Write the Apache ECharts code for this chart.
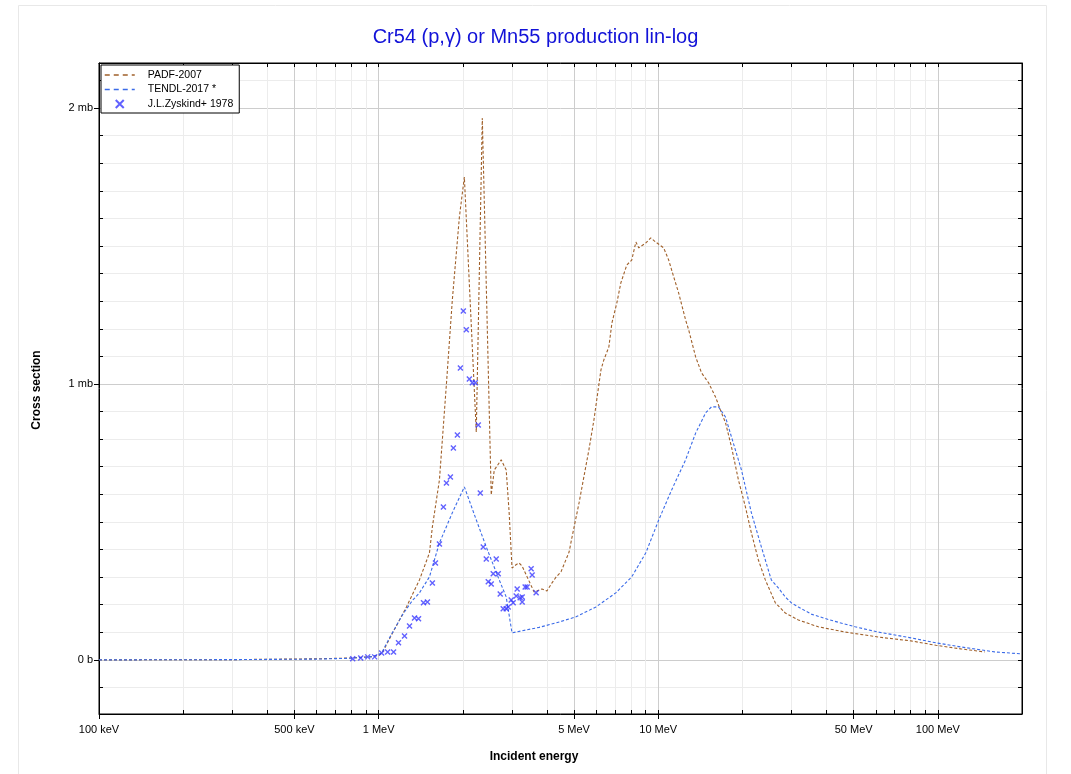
<!DOCTYPE html>
<html><head><meta charset="utf-8">
<script src="https://cdn.jsdelivr.net/npm/echarts@6/dist/echarts.min.js"></script>
<style>html,body{margin:0;padding:0;background:#fff}#c{width:1071px;height:774px}</style>
</head><body><div id="c"></div>
<script>
// ---- data (energy in MeV, cross section in mb) ----
const padfEnergy = [0.1,0.3,0.6,0.8,0.95,1.0,1.03,1.122,1.258,1.40,1.52,1.557,1.65,1.748,1.835,1.945,2.026,2.235,2.349,2.528,2.592,2.745,2.86,2.93,3.0,3.1,3.18,3.26,3.40,3.60,3.84,4.0,4.17,4.31,4.49,4.8,4.92,5.21,5.65,5.89,6.24,6.39,6.66,6.83,7.11,7.35,7.72,8.04,8.32,8.52,9.03,9.40,9.80,10.46,10.90,11.36,11.83,12.53,12.85,13.61,14.29,15.14,16.03,16.84,17.40,18.28,19.36,20.51,21.54,22.82,24.16,26.23,28.48,31.70,37.35,46.6,61.1,80.1,98.4,120.8,147];
const padfSigma  = [0,0.001,0.004,0.007,0.012,0.016,0.025,0.098,0.192,0.29,0.388,0.482,0.652,1.0,1.304,1.605,1.75,0.826,1.964,0.598,0.688,0.725,0.688,0.533,0.333,0.345,0.351,0.34,0.30,0.246,0.257,0.25,0.279,0.30,0.319,0.391,0.446,0.569,0.761,0.87,1.051,1.087,1.134,1.221,1.293,1.366,1.431,1.449,1.514,1.493,1.511,1.529,1.514,1.493,1.449,1.388,1.330,1.232,1.196,1.098,1.040,1.004,0.953,0.895,0.860,0.772,0.652,0.554,0.460,0.362,0.290,0.207,0.170,0.145,0.120,0.101,0.083,0.069,0.053,0.040,0.029];

const tendlEnergy = [0.1,0.3,0.6,0.8,0.95,1.025,1.094,1.22,1.32,1.40,1.52,1.65,1.835,2.026,2.236,2.427,2.70,2.86,3.0,3.75,4.31,5.08,5.99,7.05,8.04,9.03,10.04,11.17,12.53,13.61,14.77,15.51,16.43,17.40,18.28,19.85,21.54,23.39,25.38,26.89,28.48,29.92,31.70,35.26,41.0,50.6,61.1,80.1,98.4,120.8,159.7,197.7];
const tendlSigma  = [0,0.001,0.003,0.006,0.012,0.025,0.08,0.165,0.215,0.243,0.301,0.424,0.533,0.627,0.507,0.409,0.29,0.228,0.098,0.118,0.134,0.156,0.192,0.243,0.301,0.388,0.507,0.616,0.725,0.822,0.895,0.917,0.917,0.880,0.808,0.688,0.533,0.409,0.290,0.261,0.228,0.207,0.192,0.166,0.145,0.120,0.101,0.080,0.062,0.047,0.029,0.022];

const zyskindEnergy = [0.808,0.863,0.914,0.968,1.025,1.077,1.131,1.178,1.238,1.290,1.344,1.389,1.447,1.495,1.557,1.597,1.650,1.705,1.748,1.806,1.851,1.913,1.961,2.009,2.059,2.111,2.163,2.217,2.272,2.310,2.367,2.427,2.634,2.467,2.528,2.570,2.678,2.722,2.790,2.860,2.907,2.980,3.029,3.105,3.130,3.208,3.262,3.262,3.343,3.398,3.512,3.541,3.659];
const zyskindSigma  = [0.004,0.007,0.011,0.011,0.025,0.029,0.029,0.062,0.087,0.123,0.152,0.149,0.207,0.210,0.279,0.351,0.420,0.554,0.641,0.663,0.768,0.815,1.058,1.264,1.196,1.018,1.004,1.004,0.851,0.605,0.409,0.366,0.366,0.283,0.275,0.312,0.312,0.239,0.185,0.185,0.192,0.217,0.207,0.232,0.257,0.225,0.228,0.210,0.264,0.264,0.330,0.308,0.243];

// ---- ticks ----
const xMajorTicks  = [0.1, 0.5, 1, 5, 10, 50, 100];
const xMajorLabels = ['100 keV','500 keV','1 MeV','5 MeV','10 MeV','50 MeV','100 MeV'];
const xMinorTicks  = [0.2,0.3,0.4,0.6,0.7,0.8,0.9,2,3,4,6,7,8,9,20,30,40,60,70,80,90,200];
const yMajorTicks  = [0, 1, 2];
const yMajorLabels = ['0 b', '1 mb', '2 mb'];
const yMinorTicks  = [-0.1,0.1,0.2,0.3,0.4,0.5,0.6,0.7,0.8,0.9,1.1,1.2,1.3,1.4,1.5,1.6,1.7,1.8,1.9,2.1];

const xMin = 0.1, xMax = 200, yMin = -0.196, yMax = 2.163;

const zip = (a, b) => a.map((v, i) => [v, b[i]]);
const lg = v => Math.log10(v);
const xMajLog = xMajorTicks.map(lg);
const xMinLog = xMinorTicks.map(lg);
const xAllLog = xMajLog.concat(xMinLog);

const FONT = 'Liberation Sans, Arial, Helvetica, sans-serif';
const BROWN = '#a0602a', BLUE = '#3b6be8', MARK = '#3a3aff';

const chart = echarts.init(document.getElementById('c'), null, {renderer: 'canvas'});
const lmin = lg(xMin), lmax = lg(xMax);
function xLabel(v) {
  let best = 0, d = 1e9;
  xMajLog.forEach((t, i) => { if (Math.abs(t - v) < d) { d = Math.abs(t - v); best = i; } });
  return xMajorLabels[best];
}
function yLabel(v) {
  let best = 0, d = 1e9;
  yMajorTicks.forEach((t, i) => { if (Math.abs(t - v) < d) { d = Math.abs(t - v); best = i; } });
  return yMajorLabels[best];
}

chart.setOption({
  animation: false,
  backgroundColor: '#fff',
  textStyle: {fontFamily: FONT},
  title: {
    text: 'Cr54 (p,γ) or Mn55 production lin-log',
    left: 'center', top: 22,
    textStyle: {color: '#1212d8', fontSize: 20, fontWeight: 'normal', fontFamily: FONT}
  },
  grid: {left: 99, right: 49, top: 63, bottom: 60, show: true, borderColor: '#000', borderWidth: 1, backgroundColor: 'transparent', containLabel: false},
  legend: {
    orient: 'vertical', left: 101, top: 65,
    padding: [4, 6, 3, 3], itemGap: 2.5, itemWidth: 30, itemHeight: 8,
    backgroundColor: '#fff', borderColor: '#000', borderWidth: 1, borderRadius: 0,
    textStyle: {fontSize: 10.5, color: '#000', fontFamily: FONT, lineHeight: 12, padding: [0, 0, 0, 8]},
    data: [
      {name: 'PADF-2007', lineStyle: {color: BROWN, type: [5, 4], width: 1.5}, itemStyle: {opacity: 0}},
      {name: 'TENDL-2017 *', lineStyle: {color: BLUE, type: [5, 4], width: 1.5}, itemStyle: {opacity: 0}},
      {name: 'J.L.Zyskind+ 1978'}
    ]
  },
  xAxis: [
    {type: 'log', logBase: 10, min: xMin, max: xMax, show: false},
    {type: 'value', min: lmin, max: lmax, position: 'bottom',
      axisLine: {show: false, onZero: false},
      axisTick: {show: true, customValues: xAllLog, inside: true, length: 4, lineStyle: {color: '#000'}},
      axisLabel: {show: false},
      splitLine: {show: true, lineStyle: {color: '#ececec', width: 1}}},
    {type: 'value', min: lmin, max: lmax, position: 'bottom',
      axisLine: {show: true, onZero: false, lineStyle: {color: '#000', width: 1}},
      axisTick: {show: true, customValues: xMajLog, inside: false, length: 5, lineStyle: {color: '#000'}},
      axisLabel: {show: true, customValues: xMajLog, formatter: xLabel, fontSize: 11, color: '#000', margin: 10, fontFamily: FONT},
      splitLine: {show: true, lineStyle: {color: '#cdcdcd', width: 1}}},
    {type: 'value', min: lmin, max: lmax, position: 'top',
      axisLine: {show: true, onZero: false, lineStyle: {color: '#000'}},
      axisTick: {show: true, customValues: xAllLog, inside: true, length: 4, lineStyle: {color: '#000'}},
      axisLabel: {show: false}, splitLine: {show: false}}
  ],
  yAxis: [
    {type: 'value', min: yMin, max: yMax, position: 'left',
      axisLine: {show: false, onZero: false},
      axisTick: {show: true, customValues: yMinorTicks, inside: true, length: 4, lineStyle: {color: '#000'}},
      axisLabel: {show: false},
      splitLine: {show: true, lineStyle: {color: '#ececec', width: 1}}},
    {type: 'value', min: yMin, max: yMax, position: 'left',
      axisLine: {show: true, onZero: false, lineStyle: {color: '#000', width: 1}},
      axisTick: {show: true, customValues: yMajorTicks, inside: false, length: 5, lineStyle: {color: '#000'}},
      axisLabel: {show: true, customValues: yMajorTicks, formatter: yLabel, fontSize: 11, color: '#000', margin: 6, fontFamily: FONT},
      splitLine: {show: true, lineStyle: {color: '#cdcdcd', width: 1}}},
    {type: 'value', min: yMin, max: yMax, position: 'right',
      axisLine: {show: true, onZero: false, lineStyle: {color: '#000'}},
      axisTick: {show: true, customValues: yMinorTicks.concat(yMajorTicks), inside: true, length: 4, lineStyle: {color: '#000'}},
      axisLabel: {show: false}, splitLine: {show: false}}
  ],
  graphic: [
    {type: 'rect', shape: {x: 18.5, y: 5.5, width: 1028, height: 800}, style: {fill: 'none', stroke: '#e8e8e8', lineWidth: 1}, silent: true, z: -1},
    {type: 'text', x: 534, y: 757, style: {text: 'Incident energy', font: 'bold 12px ' + FONT, fill: '#000', textAlign: 'center', textVerticalAlign: 'middle'}},
    {type: 'text', x: 37, y: 390, rotation: Math.PI / 2, style: {text: 'Cross section', font: 'bold 12px ' + FONT, fill: '#000', textAlign: 'center', textVerticalAlign: 'middle'}}
  ],
  series: [
    {name: 'PADF-2007', type: 'line', xAxisIndex: 0, yAxisIndex: 1, data: zip(padfEnergy, padfSigma),
      symbol: 'none', smooth: false, color: BROWN, lineStyle: {color: BROWN, width: 1.1, type: [3, 2]}, z: 3},
    {name: 'TENDL-2017 *', type: 'line', xAxisIndex: 0, yAxisIndex: 1, data: zip(tendlEnergy, tendlSigma),
      symbol: 'none', smooth: false, color: BLUE, lineStyle: {color: BLUE, width: 1.1, type: [3, 2]}, z: 3},
    {name: 'J.L.Zyskind+ 1978', type: 'scatter', xAxisIndex: 0, yAxisIndex: 1, data: zip(zyskindEnergy, zyskindSigma),
      symbol: 'path://M0,0L10,10M10,0L0,10', symbolSize: 5,
      itemStyle: {color: 'transparent', borderColor: MARK, borderWidth: 1.4}, z: 4}
  ]
});
</script></body></html>
